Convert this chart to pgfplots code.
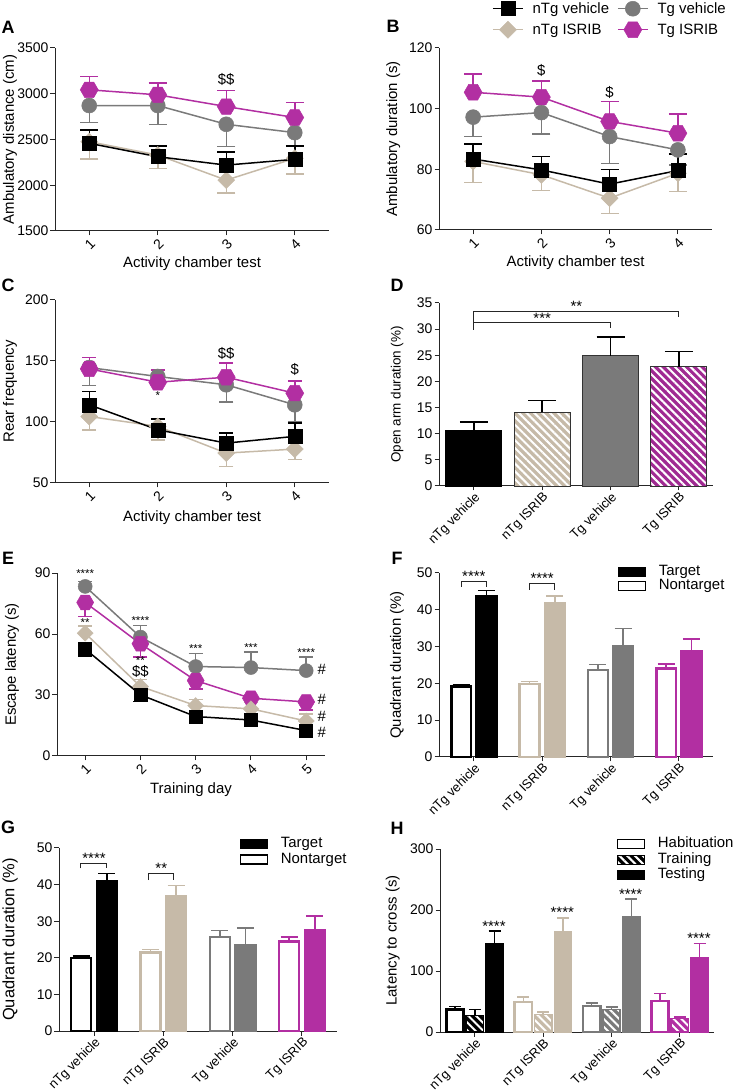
\documentclass[border=0pt]{standalone}
\usepackage{pgfplots}
\pgfplotsset{compat=1.18}
\usepackage{fontspec}
\setmainfont{Liberation Sans}
\usetikzlibrary{patterns.meta}

\definecolor{cBeige}{HTML}{C6BAA8}
\definecolor{cGray}{HTML}{7A7A7A}
\definecolor{cMag}{HTML}{B22FA2}

\pgfdeclareplotmark{hexagon*}{%
  \pgfpathmoveto{\pgfqpointpolar{0}{\pgfplotmarksize}}%
  \pgfpathlineto{\pgfqpointpolar{60}{\pgfplotmarksize}}%
  \pgfpathlineto{\pgfqpointpolar{120}{\pgfplotmarksize}}%
  \pgfpathlineto{\pgfqpointpolar{180}{\pgfplotmarksize}}%
  \pgfpathlineto{\pgfqpointpolar{240}{\pgfplotmarksize}}%
  \pgfpathlineto{\pgfqpointpolar{300}{\pgfplotmarksize}}%
  \pgfpathclose\pgfusepathqfillstroke}
\pgfdeclareplotmark{bigdiamond*}{%
  \pgfpathmoveto{\pgfqpoint{0pt}{\pgfplotmarksize}}%
  \pgfpathlineto{\pgfqpoint{\pgfplotmarksize}{0pt}}%
  \pgfpathlineto{\pgfqpoint{0pt}{-\pgfplotmarksize}}%
  \pgfpathlineto{\pgfqpoint{-\pgfplotmarksize}{0pt}}%
  \pgfpathclose\pgfusepathqfillstroke}

\newcommand\ticksize{\fontsize{14}{16}\selectfont}
\newcommand\labsize{\fontsize{15}{18}\selectfont}
\newcommand\starsize{\fontsize{15}{16}\selectfont}
\newcommand\smallstar{\fontsize{11.5}{12}\selectfont}

\pgfplotsset{
  capsz/.initial=9bp,
  base/.style={
    scale only axis, anchor=south west,
    axis x line*=bottom, axis y line*=left,
    axis line style={-, line width=1bp, black!85},
    tick align=outside, major tick length=4.5bp,
    tick style={line width=1bp, black!85},
    tick label style={font=\ticksize},
    label style={font=\labsize},
    /pgf/number format/assume math mode=true,
    /pgf/number format/1000 sep={},
    enlargelimits=false, clip=false,
    xticklabel style={rotate=45, anchor=north east, inner sep=1.5bp},
    yticklabel style={inner sep=2bp},
    ylabel style={anchor=center},
    xlabel style={anchor=center, at={(axis description cs:0.5,-0.19)}},
  },
  catticks/.style={xticklabel style={font=\fontsize{13}{15}\selectfont, inner sep=0.5bp}},
  ser/.style n args={4}{forget plot,
    color=#1, line width=1.5bp, mark=#2, mark size=#3,
    mark options={solid, fill=#1, draw=#1, line width=0.5bp},
    error bars/y dir=#4, error bars/y explicit,
    error bars/error bar style={line width=1.5bp, #1},
    error bars/error mark options={rotate=90, mark size=\pgfkeysvalueof{/pgfplots/capsz}, line width=1.5bp, #1}},
  nTgV/.style={ser={black}{square*}{7bp}{#1}},
  nTgI/.style={ser={cBeige}{bigdiamond*}{8.5bp}{#1}},
  TgV/.style={ser={cGray}{*}{7.5bp}{#1}},
  TgI/.style={ser={cMag}{hexagon*}{9bp}{#1}},
  lg/.style n args={3}{color=#1, line width=1.5bp, mark=#2, mark size=#3,
    mark options={solid, fill=#1, draw=#1, line width=0.5bp}},
  barbase/.style n args={2}{forget plot, ybar, bar width=#2,
    error bars/y dir=plus, error bars/y explicit,
    error bars/error bar style={line width=1.5bp, #1},
    error bars/error mark options={rotate=90, mark size=\pgfkeysvalueof{/pgfplots/capsz}, line width=1.5bp, #1}},
  hatch/.style={postaction={pattern={Lines[angle=-45,distance=5.5bp,line width=2bp]},pattern color=white}},
  boxlegend/.style={
    legend image code/.code={\draw[##1] (0bp,-4.5bp) rectangle (27bp,4.5bp);},
    legend style={draw=none, fill=none, inner sep=0pt, font=\labsize, cells={anchor=west},
      row sep=0.5bp, nodes={inner sep=0.5bp, text height=10bp, text depth=2.5bp},
      /tikz/every odd column/.append style={column sep=12bp}}},
}
\tikzset{stars/.style={font=\starsize, inner sep=0pt},
  sstars/.style={font=\smallstar, inner sep=0pt},
  dol/.style={font=\labsize, inner sep=0pt},
  panel/.style={font=\fontsize{18}{20}\selectfont\bfseries, inner sep=0pt},
  brk/.style={line width=0.9bp, black!85}}

\begin{document}
\begin{tikzpicture}
\useasboundingbox (0,0) rectangle (733bp,1092bp);

% ---------------- A ----------------
\begin{axis}[base, at={(55bp,861bp)}, width=274bp, height=183bp,
  xmin=0.5, xmax=4.5, ymin=1500, ymax=3500, xtick={1,2,3,4}, ytick={1500,2000,...,3500},
  capsz=9bp,
  xlabel={Activity chamber test}, ylabel={Ambulatory distance (cm)},
  ylabel style={at={(axis description cs:-0.164,0.5)}},
  xlabel style={at={(axis description cs:0.5,-0.18)}}]
\addplot[TgV=minus] coordinates {(1,2871) +- (0,185) (2,2871) +- (0,205) (3,2666) +- (0,245) (4,2575) +- (0,150)};
\addplot[TgI=plus] coordinates {(1,3043) +- (0,146) (2,2988) +- (0,128) (3,2860) +- (0,176) (4,2740) +- (0,164)};
\addplot[nTgI=minus] coordinates {(1,2476) +- (0,190) (2,2330) +- (0,146) (3,2056) +- (0,139) (4,2294) +- (0,172)};
\addplot[nTgV=plus] coordinates {(1,2458) +- (0,146) (2,2312) +- (0,117) (3,2220) +- (0,143) (4,2283) +- (0,146)};
\node[dol] at (axis cs:3,3153) {\$\$};
\end{axis}

% ---------------- B ----------------
\begin{axis}[base, at={(439bp,862bp)}, width=273bp, height=182bp,
  xmin=0.5, xmax=4.5, ymin=60, ymax=120, xtick={1,2,3,4}, ytick={60,80,...,120},
  capsz=9bp,
  xlabel={Activity chamber test}, ylabel={Ambulatory duration (s)},
  ylabel style={at={(axis description cs:-0.168,0.5)}},
  xlabel style={at={(axis description cs:0.5,-0.18)}},
  legend columns=2,
  legend image code/.code={\draw[mark repeat=2,mark phase=2,#1] plot coordinates {(0bp,0bp) (15bp,0bp) (30bp,0bp)};},
  legend style={at={(axis description cs:0.194,1.258)}, anchor=north west, draw=none, fill=none,
    inner sep=0pt, font=\labsize, cells={anchor=west}, row sep=5bp,
    nodes={inner sep=1bp},
    /tikz/every odd column/.append style={column sep=8bp},
    /tikz/every even column/.append style={column sep=7bp}}]
\addlegendimage{lg={black}{square*}{7bp}}\addlegendentry{nTg vehicle}
\addlegendimage{lg={cGray}{*}{7.5bp}}\addlegendentry{Tg vehicle}
\addlegendimage{lg={cBeige}{bigdiamond*}{8.5bp}}\addlegendentry{nTg ISRIB}
\addlegendimage{lg={cMag}{hexagon*}{9bp}}\addlegendentry{Tg ISRIB}
\addplot[TgV=minus] coordinates {(1,97.2) +- (0,6.4) (2,98.7) +- (0,7) (3,90.8) +- (0,8.8) (4,86.4) +- (0,5)};
\addplot[TgI=plus] coordinates {(1,105.4) +- (0,6) (2,103.8) +- (0,5.4) (3,95.8) +- (0,6.6) (4,91.9) +- (0,6.4)};
\addplot[nTgI=minus] coordinates {(1,82.6) +- (0,6.9) (2,78.2) +- (0,5.2) (3,70.5) +- (0,5) (4,78.7) +- (0,6)};
\addplot[nTgV=plus] coordinates {(1,83.4) +- (0,5) (2,79.8) +- (0,4.4) (3,75.1) +- (0,4.9) (4,79.6) +- (0,5.4)};
\node[dol] at (axis cs:2,112.5) {\$};
\node[dol] at (axis cs:3,105.2) {\$};
\end{axis}

% ---------------- C ----------------
\begin{axis}[base, at={(55bp,609bp)}, width=274bp, height=183bp,
  xmin=0.5, xmax=4.5, ymin=50, ymax=200, xtick={1,2,3,4}, ytick={50,100,...,200},
  capsz=7bp,
  xlabel={Activity chamber test}, ylabel={Rear frequency},
  ylabel style={at={(axis description cs:-0.164,0.5)}},
  xlabel style={at={(axis description cs:0.5,-0.19)}}]
\addplot[TgV=minus] coordinates {(1,144.6) +- (0,14.6) (2,137.3) +- (0,5) (3,130.5) +- (0,14.2) (4,114.1) +- (0,14)};
\addplot[TgI=plus] coordinates {(1,143.5) +- (0,9.5) (2,132.6) +- (0,10) (3,136.7) +- (0,11.5) (4,123.6) +- (0,10)};
\addplot[nTgI=minus] coordinates {(1,104.5) +- (0,11) (2,96.4) +- (0,11) (3,74.5) +- (0,11) (4,77.8) +- (0,8.7)};
\addplot[nTgV=plus] coordinates {(1,114.1) +- (0,11) (2,93.6) +- (0,9) (3,82.7) +- (0,8.2) (4,88.2) +- (0,10.9)};
\node[dol] at (axis cs:3,156) {\$\$};
\node[dol] at (axis cs:4,142.7) {\$};
\node[sstars] at (axis cs:2,121.5) {*};
\end{axis}

% ---------------- D ----------------
\begin{axis}[base, catticks, at={(439bp,606bp)}, width=274bp, height=183bp,
  xmin=0.49, xmax=4.5, ymin=0, ymax=35, xtick={1,2,3,4}, ytick={0,5,...,35},
  xticklabels={nTg vehicle, nTg ISRIB, Tg vehicle, Tg ISRIB},
  capsz=14bp,
  ylabel={Open arm duration (\%)},
  ylabel style={font=\fontsize{13.5}{15}\selectfont, at={(axis description cs:-0.153,0.5)}}]
\addplot[barbase={black}{0.82}, fill=black, draw=black, line width=0.8bp] coordinates {(1,10.7) +- (0,1.5)};
\addplot[barbase={black}{0.82}, fill=cBeige, draw=black!80, line width=0.8bp, hatch] coordinates {(2,14.1) +- (0,2.25)};
\addplot[barbase={black}{0.82}, fill=cGray, draw=black!80, line width=0.8bp] coordinates {(3,24.9) +- (0,3.6)};
\addplot[barbase={black}{0.82}, fill=cMag!90!black, draw=black!80, line width=0.8bp, hatch] coordinates {(4,22.8) +- (0,2.9)};
\draw[brk] (axis cs:1,29.9) -- (axis cs:1,31.2) -- (axis cs:3,31.2) -- (axis cs:3,30.2);
\draw[brk] (axis cs:1,31.2) -- (axis cs:1,33.4) -- (axis cs:4,33.4) -- (axis cs:4,32.3);
\node[stars] at (axis cs:2,32.0) {***};
\node[stars] at (axis cs:2.5,34.3) {**};
\end{axis}

% ---------------- E ----------------
\begin{axis}[base, at={(57bp,336bp)}, width=268bp, height=183bp,
  xmin=0.49, xmax=5.34, ymin=0, ymax=90, xtick={1,2,3,4,5}, ytick={0,30,...,90},
  capsz=7bp,
  xlabel={Training day}, ylabel={Escape latency (s)},
  ylabel style={at={(axis description cs:-0.168,0.5)}},
  xlabel style={at={(axis description cs:0.5,-0.186)}}]
\addplot[TgV=plus, mark size=7bp] coordinates {(1,83.4) +- (0,2.5) (2,58.5) +- (0,5.7) (3,44) +- (0,6.3) (4,43.5) +- (0,7.6) (5,42) +- (0,6.6)};
\addplot[TgI=minus, mark size=8.5bp] coordinates {(1,75.5) +- (0,6.8) (2,55.2) +- (0,6.6) (3,37.1) +- (0,4.2) (4,28.4) +- (0,2) (5,26.6) +- (0,3.9)};
\addplot[nTgI=plus, mark size=8bp] coordinates {(1,60.4) +- (0,3.6) (2,34.2) +- (0,3.3) (3,24.8) +- (0,3) (4,23.2) +- (0,3) (5,17.2) +- (0,3.5)};
\addplot[nTgV=minus, mark size=6.5bp] coordinates {(1,52.6) +- (0,3.6) (2,30.1) +- (0,3.3) (3,19.4) +- (0,1.5) (4,17.7) +- (0,2.4) (5,12.5) +- (0,1.7)};
\node[sstars] at (axis cs:1,89.5) {****};
\node[sstars] at (axis cs:1,65.8) {**};
\node[sstars] at (axis cs:2,66.6) {****};
\node[sstars] at (axis cs:2,46.9) {**};
\node[dol] at (axis cs:2,41.6) {\$\$};
\node[sstars] at (axis cs:3,52.6) {***};
\node[sstars] at (axis cs:4,53.1) {***};
\node[sstars] at (axis cs:5,51) {****};
\node[dol] at (axis cs:5.28,42.4) {\#};
\node[dol] at (axis cs:5.28,27.6) {\#};
\node[dol] at (axis cs:5.28,19.4) {\#};
\node[dol] at (axis cs:5.28,11.5) {\#};
\end{axis}

% ---------------- F ----------------
\begin{axis}[base, catticks, boxlegend, at={(439bp,335bp)}, width=274bp, height=184bp,
  xmin=0.49, xmax=4.5, ymin=0, ymax=50, xtick={1,2,3,4}, ytick={0,10,...,50},
  xticklabels={nTg vehicle, nTg ISRIB, Tg vehicle, Tg ISRIB},
  capsz=8.5bp,
  ylabel={Quadrant duration (\%)},
  ylabel style={at={(axis description cs:-0.153,0.5)}},
  legend style={at={(axis description cs:0.653,1.045)}, anchor=north west}]
\addlegendimage{black, fill=black, line width=1bp}\addlegendentry{Target}
\addlegendimage{black, fill=white, line width=1.2bp}\addlegendentry{Nontarget}
\addplot[barbase={black}{0.29}, fill=white, draw=black, line width=2.5bp] coordinates {(0.815,19.1) +- (0,0.5)};
\addplot[barbase={black}{0.29}, fill=black, draw=black, line width=2.5bp] coordinates {(1.185,43.8) +- (0,1.5)};
\addplot[barbase={cBeige}{0.29}, fill=white, draw=cBeige, line width=2.5bp] coordinates {(1.815,19.9) +- (0,0.6)};
\addplot[barbase={cBeige}{0.29}, fill=cBeige, draw=cBeige, line width=2.5bp] coordinates {(2.185,41.7) +- (0,2.1)};
\addplot[barbase={cGray}{0.29}, fill=white, draw=cGray, line width=2.5bp] coordinates {(2.815,23.6) +- (0,1.5)};
\addplot[barbase={cGray}{0.29}, fill=cGray, draw=cGray, line width=2.5bp] coordinates {(3.185,30.2) +- (0,4.7)};
\addplot[barbase={cMag}{0.29}, fill=white, draw=cMag, line width=2.5bp] coordinates {(3.815,24.1) +- (0,1.2)};
\addplot[barbase={cMag}{0.29}, fill=cMag, draw=cMag, line width=2.5bp] coordinates {(4.185,28.6) +- (0,3.4)};
\draw[brk] (axis cs:0.815,46.2) -- (axis cs:0.815,47.8) -- (axis cs:1.185,47.8) -- (axis cs:1.185,46.2);
\draw[brk] (axis cs:1.815,45.4) -- (axis cs:1.815,47.1) -- (axis cs:2.185,47.1) -- (axis cs:2.185,45.4);
\node[stars] at (axis cs:1,49.2) {****};
\node[stars] at (axis cs:2,48.5) {****};
\end{axis}

% ---------------- G ----------------
\begin{axis}[base, catticks, boxlegend, at={(59bp,61bp)}, width=278bp, height=183bp,
  xmin=0.495, xmax=4.505, ymin=0, ymax=50, xtick={1,2,3,4}, ytick={0,10,...,50},
  xticklabels={nTg vehicle, nTg ISRIB, Tg vehicle, Tg ISRIB},
  capsz=8.5bp,
  ylabel={Quadrant duration (\%)},
  ylabel style={font=\fontsize{16.5}{18}\selectfont, at={(axis description cs:-0.176,0.5)}},
  legend style={at={(axis description cs:0.651,1.06)}, anchor=north west, row sep=2bp}]
\addlegendimage{black, fill=black, line width=1bp}\addlegendentry{Target}
\addlegendimage{black, fill=white, line width=1.2bp}\addlegendentry{Nontarget}
\addplot[barbase={black}{0.29}, fill=white, draw=black, line width=2.5bp] coordinates {(0.815,20) +- (0,0.5)};
\addplot[barbase={black}{0.29}, fill=black, draw=black, line width=2.5bp] coordinates {(1.185,41) +- (0,2)};
\addplot[barbase={cBeige}{0.29}, fill=white, draw=cBeige, line width=2.5bp] coordinates {(1.815,21.4) +- (0,0.9)};
\addplot[barbase={cBeige}{0.29}, fill=cBeige, draw=cBeige, line width=2.5bp] coordinates {(2.185,36.8) +- (0,2.9)};
\addplot[barbase={cGray}{0.29}, fill=white, draw=cGray, line width=2.5bp] coordinates {(2.815,25.7) +- (0,1.7)};
\addplot[barbase={cGray}{0.29}, fill=cGray, draw=cGray, line width=2.5bp] coordinates {(3.185,23.5) +- (0,4.7)};
\addplot[barbase={cMag}{0.29}, fill=white, draw=cMag, line width=2.5bp] coordinates {(3.815,24.5) +- (0,1.2)};
\addplot[barbase={cMag}{0.29}, fill=cMag, draw=cMag, line width=2.5bp] coordinates {(4.185,27.5) +- (0,3.9)};
\draw[brk] (axis cs:0.8,44.4) -- (axis cs:0.8,45.9) -- (axis cs:1.18,45.9) -- (axis cs:1.18,44.4);
\draw[brk] (axis cs:1.78,41.2) -- (axis cs:1.78,43) -- (axis cs:2.15,43) -- (axis cs:2.15,41.2);
\node[stars] at (axis cs:1,47.2) {****};
\node[stars] at (axis cs:1.97,44.4) {**};
\end{axis}

% ---------------- H ----------------
\begin{axis}[base, catticks, boxlegend, at={(440bp,60bp)}, width=274bp, height=183bp,
  xmin=0.49, xmax=4.5, ymin=0, ymax=300, xtick={1,2,3,4}, ytick={0,100,200,300},
  xticklabels={nTg vehicle, nTg ISRIB, Tg vehicle, Tg ISRIB},
  capsz=6bp,
  ylabel={Latency to cross (s)},
  ylabel style={at={(axis description cs:-0.172,0.5)}},
  legend style={at={(axis description cs:0.646,1.065)}, anchor=north west, row sep=2bp}]
\addlegendimage{black, fill=white, line width=1.2bp}\addlegendentry{Habituation}
\addlegendimage{black, fill=black, line width=1bp, hatch}\addlegendentry{Training}
\addlegendimage{black, fill=black, line width=1bp}\addlegendentry{Testing}
\addplot[barbase={black}{0.255}, fill=white, draw=black, line width=2.5bp] coordinates {(0.71,36.7) +- (0,5.5)};
\addplot[barbase={black}{0.255}, fill=black, draw=black, line width=1.5bp, hatch] coordinates {(1,27.4) +- (0,9.8)};
\addplot[barbase={black}{0.255}, fill=black, draw=black, line width=1.5bp] coordinates {(1.29,144) +- (0,21.6)};
\addplot[barbase={cBeige}{0.255}, fill=white, draw=cBeige, line width=2.5bp] coordinates {(1.71,49.3) +- (0,8.2)};
\addplot[barbase={cBeige}{0.255}, fill=cBeige, draw=cBeige, line width=1.5bp, hatch] coordinates {(2,29) +- (0,3.8)};
\addplot[barbase={cBeige}{0.255}, fill=cBeige, draw=cBeige, line width=1.5bp] coordinates {(2.29,164.2) +- (0,22.8)};
\addplot[barbase={cGray}{0.255}, fill=white, draw=cGray, line width=2.5bp] coordinates {(2.71,42.7) +- (0,4.9)};
\addplot[barbase={cGray}{0.255}, fill=cGray, draw=cGray, line width=1.5bp, hatch] coordinates {(3,36.7) +- (0,4.3)};
\addplot[barbase={cGray}{0.255}, fill=cGray, draw=cGray, line width=1.5bp] coordinates {(3.29,189) +- (0,29)};
\addplot[barbase={cMag}{0.255}, fill=white, draw=cMag, line width=2.5bp] coordinates {(3.71,50.9) +- (0,12.1)};
\addplot[barbase={cMag}{0.255}, fill=cMag, draw=cMag, line width=1.5bp, hatch] coordinates {(4,21.9) +- (0,2.7)};
\addplot[barbase={cMag}{0.255}, fill=cMag, draw=cMag, line width=1.5bp] coordinates {(4.29,122) +- (0,23)};
\node[stars] at (axis cs:1.28,174) {****};
\node[stars] at (axis cs:2.28,196) {****};
\node[stars] at (axis cs:3.28,225.5) {****};
\node[stars] at (axis cs:4.28,154) {****};
\end{axis}

\node[panel] at (8bp,1065bp) {A};
\node[panel] at (393bp,1066bp) {B};
\node[panel] at (8bp,807bp) {C};
\node[panel] at (397bp,807bp) {D};
\node[panel] at (8bp,534bp) {E};
\node[panel] at (397bp,534bp) {F};
\node[panel] at (8bp,265bp) {G};
\node[panel] at (397bp,264bp) {H};
\end{tikzpicture}
\end{document}
